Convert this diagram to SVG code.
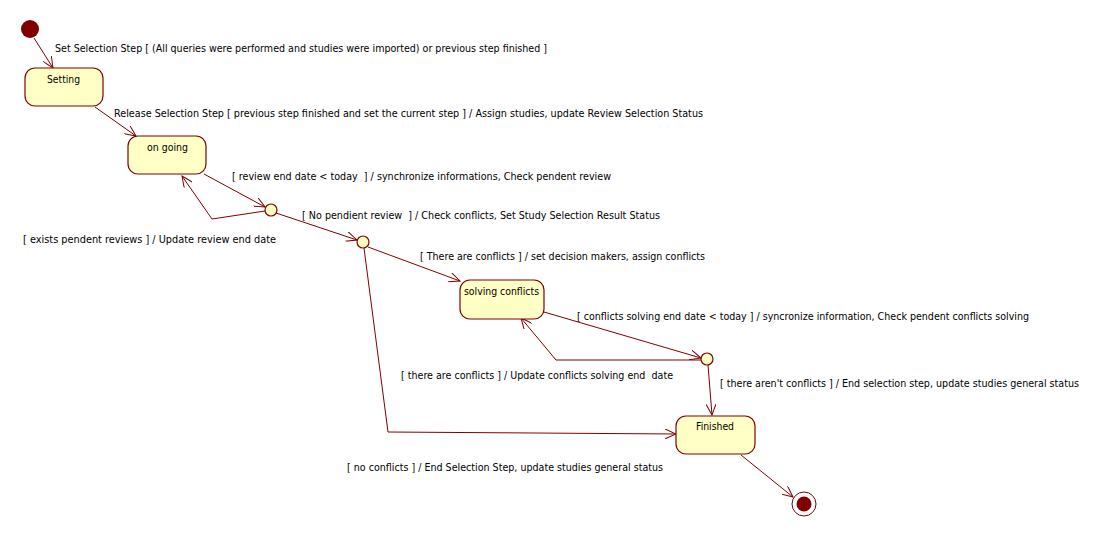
<svg xmlns="http://www.w3.org/2000/svg" width="1098" height="537" viewBox="0 0 1098 537">
<style>
.st{fill:#ffffc6;stroke:#800000;stroke-width:1.2}
.jn{fill:#ffffc6;stroke:#800000;stroke-width:1.2}
.e{fill:none;stroke:#800000;stroke-width:1}
text{font-family:Tahoma,"DejaVu Sans","Liberation Sans",sans-serif;font-size:10.5px;fill:#000}
.sm{font-size:9.8px}
</style>
<defs>
<marker id="arr" viewBox="0 0 12 10" refX="11" refY="5" markerWidth="12" markerHeight="10" markerUnits="userSpaceOnUse" orient="auto">
<path d="M0,0 L11,5 L0,10" fill="none" stroke="#800000" stroke-width="1"/>
</marker>
</defs>
<rect width="1098" height="537" fill="#fff"/>
<g id="connectors">
<line class="e" x1="34" y1="38" x2="53" y2="68" marker-end="url(#arr)"/>
<line class="e" x1="95" y1="107" x2="136" y2="136" marker-end="url(#arr)"/>
<line class="e" x1="204" y1="174" x2="265" y2="207" marker-end="url(#arr)"/>
<polyline class="e" points="265,211 212,219 182,176" marker-end="url(#arr)"/>
<line class="e" x1="276" y1="213" x2="357" y2="240" marker-end="url(#arr)"/>
<line class="e" x1="368" y1="247" x2="460" y2="281" marker-end="url(#arr)"/>
<line class="e" x1="544" y1="312" x2="701" y2="358" marker-end="url(#arr)"/>
<polyline class="e" points="701,360 556,360 521,318" marker-end="url(#arr)"/>
<line class="e" x1="708" y1="365" x2="712" y2="415" marker-end="url(#arr)"/>
<polyline class="e" points="364,248 388,432 676,434" marker-end="url(#arr)"/>
<line class="e" x1="741" y1="455" x2="793" y2="497" marker-end="url(#arr)"/>
</g>
<g id="labels">
<text x="55" y="52" textLength="492" lengthAdjust="spacingAndGlyphs">Set Selection Step [ (All queries were performed and studies were imported) or previous step finished ]</text>
<text x="114" y="117" textLength="589" lengthAdjust="spacingAndGlyphs">Release Selection Step [ previous step finished and set the current step ] / Assign studies, update Review Selection Status</text>
<text x="232" y="180" textLength="379" lengthAdjust="spacingAndGlyphs" xml:space="preserve">[ review end date &lt; today  ] / synchronize informations, Check pendent review</text>
<text x="23" y="243" textLength="253" lengthAdjust="spacingAndGlyphs">[ exists pendent reviews ] / Update review end date</text>
<text x="302" y="219" textLength="358" lengthAdjust="spacingAndGlyphs" xml:space="preserve">[ No pendient review  ] / Check conflicts, Set Study Selection Result Status</text>
<text x="420" y="260" textLength="285" lengthAdjust="spacingAndGlyphs">[ There are conflicts ] / set decision makers, assign conflicts</text>
<text x="577" y="320" textLength="452" lengthAdjust="spacingAndGlyphs">[ conflicts solving end date &lt; today ] / syncronize information, Check pendent conflicts solving</text>
<text x="401" y="379" textLength="272" lengthAdjust="spacingAndGlyphs" xml:space="preserve">[ there are conflicts ] / Update conflicts solving end  date</text>
<text class="sm" x="720" y="387" textLength="359" lengthAdjust="spacingAndGlyphs">[ there aren't conflicts ] / End selection step, update studies general status</text>
<text x="347" y="471" textLength="316" lengthAdjust="spacingAndGlyphs">[ no conflicts ] / End Selection Step, update studies general status</text>
</g>
<g id="initial"><circle cx="30" cy="29" r="9" fill="#800000"/></g>
<g id="setting"><rect class="st" x="25" y="68" width="78" height="38" rx="10"/><text x="47" y="83" textLength="33" lengthAdjust="spacingAndGlyphs">Setting</text></g>
<g id="ongoing"><rect class="st" x="128" y="136" width="78" height="38" rx="10"/><text x="147" y="151" textLength="41" lengthAdjust="spacingAndGlyphs">on going</text></g>
<g id="j1"><circle class="jn" cx="271" cy="210" r="6"/></g>
<g id="j2"><circle class="jn" cx="363" cy="242" r="6"/></g>
<g id="solving"><rect class="st" x="460" y="280" width="84" height="39" rx="10"/><text x="464" y="295" textLength="75" lengthAdjust="spacingAndGlyphs">solving conflicts</text></g>
<g id="j3"><circle class="jn" cx="707" cy="359" r="6"/></g>
<g id="finished"><rect class="st" x="676" y="416" width="79" height="38" rx="10"/><text x="696" y="430" textLength="38" lengthAdjust="spacingAndGlyphs">Finished</text></g>
<g id="final"><circle cx="804" cy="504" r="12" fill="#fff" stroke="#800000" stroke-width="1"/><circle cx="804" cy="504" r="7.5" fill="#800000"/></g>
</svg>
